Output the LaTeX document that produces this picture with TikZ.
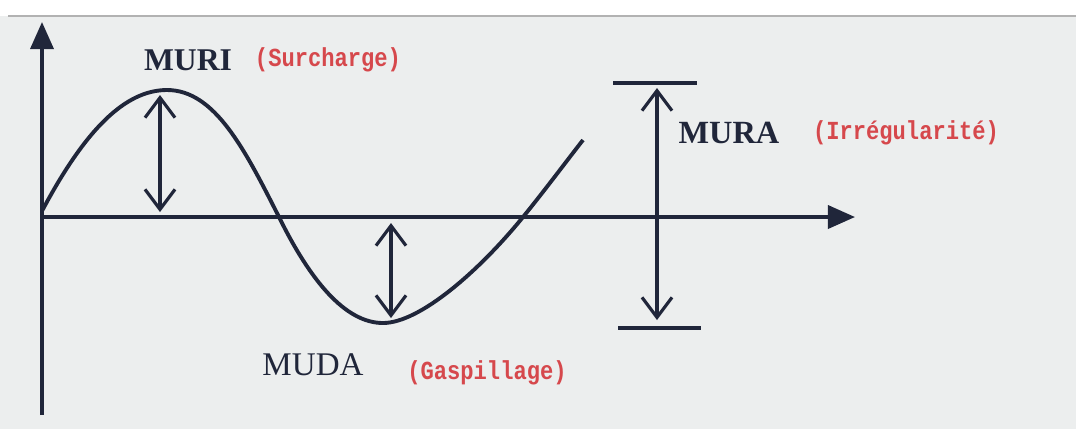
\documentclass[tikz,border=0pt]{standalone}
\usepackage{fontspec}
\setmainfont{Liberation Serif}
\newfontfamily\codefont{Liberation Mono}
\usepackage{xcolor}
\usetikzlibrary{arrows.meta,positioning,calc}

\definecolor{inkblue}{RGB}{32,38,58}
\definecolor{notered}{RGB}{214,72,76}
\definecolor{screen}{RGB}{236,238,238}

\tikzset{
	axis/.style={line width=1pt, inkblue, -{Triangle[length=2.7mm,width=2.3mm]}},
	wave/.style={line width=1.1pt, inkblue},
	gap/.style={line width=0.9pt, inkblue, {Straight Barb[length=2mm,width=3mm]}-{Straight Barb[length=2mm,width=3mm]}},
	bar/.style={line width=0.9pt, inkblue},
	waste/.style={font=\fontsize{9.4}{11}\selectfont, text=inkblue, inner sep=0pt},
	gloss/.style={font=\fontsize{7.4}{9}\selectfont\codefont\bfseries, text=notered, inner sep=0pt}
}

\newcommand{\narrow}[1]{\scalebox{0.85}[1]{#1}}

\begin{document}
\begin{tikzpicture}[x=0.01cm, y=-0.01cm]
	\useasboundingbox (0,0) rectangle (1076,429);
	\fill[screen] (0,16) rectangle (1076,429);
	\draw[gray!60, line width=0.6pt] (8,16) -- (1076,16);

	% axes
	\coordinate (origin) at (42,217);
	\coordinate (ytop) at (42,22);
	\coordinate (ybot) at (42,415);
	\coordinate (xend) at (855,217);
	\draw[axis] (ybot) -- (ytop);
	\draw[axis] (origin) -- (xend);

	% the wave
	\coordinate (start) at (42,211);
	\coordinate (peak) at (167,90);
	\coordinate (cross1) at (279,217);
	\coordinate (trough) at (383,323);
	\coordinate (cross2) at (523,217);
	\coordinate (stop) at (583,140);
	\draw[wave] (start) .. controls (85,130) and (125,90) .. (peak)
		.. controls (215,90) and (245,150) .. (cross1)
		.. controls (310,280) and (345,323) .. (trough)
		.. controls (420,323) and (480,270) .. (cross2)
		.. controls (545,190) and (565,163) .. (stop);

	% MURI
	\coordinate (muri top) at (160,95);
	\coordinate (muri bot) at (160,212);
	\draw[gap] (muri top) -- (muri bot);
	\node[waste, font=\fontsize{9}{11}\selectfont\bfseries] (muri) at (188,60) {MURI};
	\node[gloss] (surcharge) at (328,60) {\narrow{(Surcharge)}};

	% MUDA
	\coordinate (muda top) at (391,223);
	\coordinate (muda bot) at (391,318);
	\draw[gap] (muda top) -- (muda bot);
	\node[waste] (muda) at (313,365) {MUDA};
	\node[gloss] (gaspillage) at (487,373) {\narrow{(Gaspillage)}};

	% MURA
	\coordinate (mura top) at (657,88);
	\coordinate (mura bot) at (657,320);
	\draw[bar] (613,83) coordinate (tl) -- (697,83) coordinate (tr);
	\draw[bar] (618,328) coordinate (bl) -- (701,328) coordinate (br);
	\draw[gap] (mura top) -- (mura bot);
	\node[waste, font=\fontsize{9.2}{11}\selectfont\bfseries] (mura) at (729,133) {MURA};
	\node[gloss] (irregularite) at (906,133) {\narrow{(Irrégularité)}};
\end{tikzpicture}
\end{document}
